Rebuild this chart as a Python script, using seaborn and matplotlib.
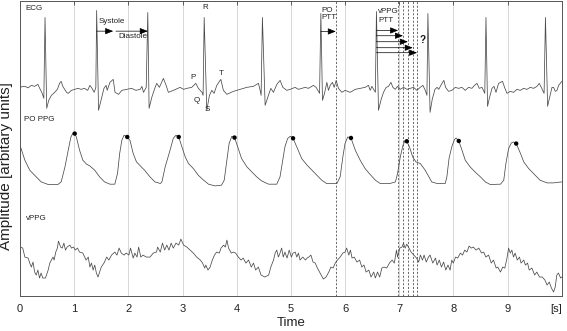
import numpy as np
import seaborn as sns
import matplotlib
matplotlib.use("Agg")
import matplotlib.pyplot as plt

# ---- data (time in s, amplitude in arbitrary units) ----
ecg_t = [0.01, 0.05, 0.09, 0.15, 0.21, 0.27, 0.33, 0.36, 0.41, 0.44, 0.462, 0.493, 0.53, 0.58, 0.64, 0.69, 0.73, 0.76, 0.79, 0.86, 0.89, 0.95,
         1.01, 1.07, 1.13, 1.19, 1.25, 1.29, 1.33, 1.37, 1.40, 1.415, 1.45, 1.51, 1.55, 1.59, 1.61, 1.66, 1.72, 1.755, 1.82, 1.88, 1.97,
         2.06, 2.14, 2.22, 2.25, 2.28, 2.33, 2.359, 2.383, 2.433, 2.494, 2.525, 2.573, 2.647, 2.697, 2.739, 2.832, 2.955,
         3.02, 3.08, 3.17, 3.245, 3.293, 3.36, 3.38, 3.40, 3.448, 3.497, 3.541, 3.583, 3.633, 3.707, 3.755, 3.818, 3.94,
         4.064, 4.187, 4.309, 4.402, 4.433, 4.451, 4.475, 4.525, 4.586, 4.631, 4.679, 4.741, 4.802, 4.852, 4.926, 4.987,
         5.079, 5.14, 5.203, 5.264, 5.325, 5.388, 5.417, 5.467, 5.53, 5.554, 5.584, 5.621, 5.665, 5.694, 5.726, 5.768, 5.80, 5.837, 5.879, 5.942,
         6.003, 6.095, 6.188, 6.28, 6.372, 6.433, 6.465, 6.496, 6.56, 6.58, 6.618, 6.662, 6.71, 6.76, 6.803, 6.847, 6.884, 6.927, 6.969,
         7.019, 7.08, 7.143, 7.204, 7.265, 7.327, 7.388, 7.438, 7.481, 7.512, 7.53, 7.57, 7.61, 7.66, 7.70, 7.73, 7.789, 7.825, 7.856, 7.911, 7.974,
         8.035, 8.096, 8.158, 8.219, 8.28, 8.343, 8.391, 8.435, 8.478, 8.528, 8.58, 8.602, 8.631, 8.668, 8.713, 8.75, 8.787, 8.835, 8.87, 8.908, 8.945, 8.99,
         9.051, 9.112, 9.174, 9.235, 9.296, 9.359, 9.42, 9.481, 9.544, 9.586, 9.623, 9.675, 9.70, 9.74, 9.777, 9.821, 9.85, 9.882, 9.913, 9.943, 9.974, 10.0]
ecg_v = [2, 3, 3, 1.5, 4, 3, 5, 1.5, -4, -9, 72, -19, -11, -6, -3, 0, 6, 8, 3, -3, -4, -1,
         0, 1, 0, 1, -1, 4, 1, -3, 2, 79, -21, -8, 1, 4, -1, 7, 10, -3, -5, -1, 0,
         1, -1, 0, 3, -3, 2, 77, -19, -8, 2, 6, 2, 11, 4, -3, -1, 2,
         0, 1, 2, 6, 1, -3, -6, 72, -21, -6, -1, -4, 4, 10, -1, -5, -2,
         0, 2, 3, 6, -1, -6, 72, -16, -6, 1, -3, 5, 9, 2, -1, 0,
         2, 0, 1, 2, 1, 3, 4, 2, -4, 76, -11, -4, 7, -1, 4, 7, 2, 9, 1, -3,
         -1, -3, 0, 1, 2, 4, -1, 3, -3, 78, -21, -11, -3, 2, 3, 7, 2, 0, 3,
         0, 2, 0, 1, 2, -1, 2, 4, -1, -6, 76, -23, -10, 0, 2, 0, 6, 9, 2, -2, -1,
         2, 1, 2, -1, 2, 1, 4, 6, 1, 2, -4, 72, -17, -8, 1, 3, -3, 6, 7, 8, 2, -4,
         -2, -3, 0, -1, 1, 0, 2, 1, 3, 6, 2, -4, 72, -17, -8, 2, 2, -2, -1, 4, 6, 8]

ppg_t = [0.01, 0.09, 0.18, 0.27, 0.39, 0.52, 0.70, 0.76, 0.83, 0.89,
         0.94, 0.98, 1.01, 1.04, 1.10, 1.16, 1.23, 1.29, 1.38, 1.47,
         1.56, 1.66, 1.75, 1.80, 1.84, 1.88, 1.92, 1.98, 2.03, 2.09,
         2.15, 2.21, 2.30, 2.40, 2.49, 2.59, 2.62, 2.68, 2.77, 2.83,
         2.88, 2.93, 2.99, 3.05, 3.11, 3.20, 3.29, 3.39, 3.48, 3.60,
         3.72, 3.77, 3.82, 3.86, 3.91, 3.96, 4.02, 4.09, 4.19, 4.28,
         4.37, 4.46, 4.59, 4.74, 4.80, 4.85, 4.89, 4.94, 4.99, 5.04,
         5.11, 5.20, 5.30, 5.39, 5.48, 5.57, 5.66, 5.85, 5.91, 5.96,
         6.00, 6.05, 6.11, 6.19, 6.28, 6.37, 6.46, 6.56, 6.65, 6.83,
         6.93, 6.97, 7.02, 7.07, 7.11, 7.14, 7.19, 7.25, 7.31, 7.39,
         7.48, 7.60, 7.70, 7.85, 7.88, 7.92, 7.97, 8.02, 8.05, 8.10,
         8.16, 8.22, 8.31, 8.40, 8.50, 8.59, 8.68, 8.87, 8.93, 8.97,
         9.02, 9.07, 9.11, 9.16, 9.24, 9.30, 9.39, 9.48, 9.60, 9.73,
         9.85, 10.0]
ppg_v = [38.3, 25, 15, 10, 3.3, 0.7, 0.7, 3.3, 18.3, 35,
         48.3, 52.3, 51.7, 48.3, 35, 25, 21, 19.3, 15, 8.3,
         3.3, 1, 1, 11.7, 31.7, 45, 50, 48.3, 45, 31.7,
         23.3, 20, 15, 8.3, 3.3, 1.7, 3.3, 18.3, 35, 47,
         50, 48.3, 38.3, 28.3, 21.7, 16.7, 10, 5, 1, -0.7,
         0, 5, 25, 41.7, 49, 47.7, 38.3, 26.7, 18.3, 13.3,
         8.3, 4.3, 1, 1, 8.3, 25, 38.3, 46.7, 49, 47,
         38.3, 26.7, 20, 15, 10, 5, 1.7, 1.7, 8.3, 28.3,
         41.7, 48.3, 47.3, 35, 25, 16.7, 11, 5, 1.7, 1.7,
         3.3, 11.7, 28.3, 40, 45, 44, 38.3, 28.3, 23.3, 21.7,
         15, 3.3, 1.7, 1.7, 8.3, 26.7, 38.3, 45.7, 47.3, 44.3,
         35, 25, 18.3, 13.3, 8.3, 3.3, 0.7, 1, 5, 21.7,
         36.7, 42.3, 43.3, 41.7, 31.7, 23.3, 16.7, 11.7, 5, 2.3,
         2.3, 3.3]

# systolic peaks marked on the PO PPG
peak_t = [1.01, 1.98, 2.93, 3.96, 5.04, 6.11, 7.14, 8.10, 9.16]
peak_v = [51.7, 48.3, 48.3, 47.7, 47, 47.3, 44, 44.3, 41.7]

vppg_t = [0.01, 0.05, 0.09, 0.15, 0.18, 0.21, 0.24, 0.27, 0.30, 0.33, 0.36, 0.39, 0.42, 0.47, 0.52,
          0.55, 0.58, 0.61, 0.63, 0.66, 0.69, 0.71, 0.75, 0.78, 0.81, 0.84, 0.87, 0.92, 0.95, 0.99,
          1.02, 1.06, 1.10, 1.16, 1.22, 1.26, 1.29, 1.32, 1.35, 1.38, 1.41, 1.44, 1.50, 1.55, 1.60,
          1.64, 1.69, 1.75, 1.79, 1.83, 1.87, 1.92, 1.96,
          2.01, 2.04, 2.09, 2.12, 2.16, 2.19, 2.23, 2.27, 2.33, 2.40, 2.46, 2.52, 2.54, 2.59, 2.63,
          2.67, 2.71, 2.75, 2.79, 2.83, 2.88, 2.93, 2.97,
          3.02, 3.08, 3.14, 3.20, 3.26, 3.33, 3.37, 3.41, 3.43, 3.47, 3.51, 3.55, 3.59, 3.63, 3.68,
          3.71, 3.76, 3.79, 3.82, 3.85, 3.90, 3.94, 3.98,
          4.03, 4.08, 4.12, 4.17, 4.22, 4.27, 4.31, 4.35, 4.40, 4.45, 4.52, 4.59, 4.63, 4.68, 4.71,
          4.74, 4.77, 4.80, 4.83, 4.86, 4.89, 4.93, 4.97,
          5.01, 5.04, 5.08, 5.11, 5.14, 5.17, 5.22, 5.27, 5.30, 5.33, 5.37, 5.41, 5.45, 5.49, 5.54,
          5.60, 5.65, 5.70, 5.74, 5.78, 5.82, 5.86, 5.91, 5.96,
          6.00, 6.03, 6.07, 6.10, 6.13, 6.17, 6.22, 6.27, 6.31, 6.35, 6.39, 6.44, 6.48, 6.53, 6.56,
          6.60, 6.64, 6.68, 6.72, 6.77, 6.82, 6.87, 6.91, 6.95, 6.97,
          7.01, 7.05, 7.08, 7.11, 7.14, 7.18, 7.22, 7.27, 7.32, 7.36, 7.39, 7.43, 7.46, 7.50, 7.54,
          7.57, 7.62, 7.67, 7.70, 7.74, 7.78, 7.82, 7.86, 7.90, 7.94, 7.97,
          8.00, 8.04, 8.08, 8.13, 8.17, 8.21, 8.25, 8.29, 8.33, 8.37, 8.42, 8.47, 8.52, 8.56, 8.60,
          8.65, 8.70, 8.74, 8.79, 8.82, 8.87, 8.91, 8.95, 8.99,
          9.02, 9.05, 9.08, 9.11, 9.14, 9.18, 9.22, 9.25, 9.30, 9.33, 9.37, 9.40, 9.45, 9.50, 9.54,
          9.59, 9.64, 9.69, 9.73, 9.77, 9.81, 9.85, 9.88, 9.91, 9.94, 9.98, 10.0]
vppg_v = [33, 32, 23, 22, 17, 13, 18, 8, 5, 10, 2, 7, 2, 2, 10,
          17, 20, 23, 20, 28, 32, 39, 33, 32, 37, 30, 33, 35, 32, 33,
          30, 32, 28, 27, 20, 23, 13, 17, 10, 15, 7, 3, 13, 17, 23,
          20, 25, 28, 25, 32, 27, 25, 27,
          25, 32, 22, 27, 23, 33, 23, 25, 23, 23, 27, 28, 33, 28, 37,
          30, 35, 30, 37, 32, 37, 35, 41,
          35, 33, 30, 27, 23, 20, 17, 12, 15, 10, 13, 20, 25, 28, 27,
          32, 35, 33, 40, 32, 27, 28, 27,
          23, 20, 22, 17, 20, 13, 17, 10, 13, 5, 3, 5, 13, 20, 27,
          30, 23, 27, 32, 23, 28, 22, 30,
          23, 27, 28, 23, 27, 20, 23, 20, 22, 23, 25, 18, 17, 12, 7,
          1, 3, 8, 13, 12, 17, 20, 23, 27,
          28, 32, 25, 30, 22, 23, 18, 20, 13, 15, 8, 10, 3, 8, 2,
          8, 3, 12, 13, 12, 17, 20, 17, 30, 23,
          32, 33, 37, 32, 36, 32, 28, 25, 22, 18, 25, 20, 25, 18, 23,
          25, 17, 22, 15, 20, 13, 18, 10, 15, 10, 20,
          17, 23, 22, 27, 25, 30, 28, 34, 32, 33, 30, 32, 27, 28, 23,
          25, 17, 20, 12, 13, 8, 13, 12, 22,
          32, 27, 30, 23, 27, 20, 23, 17, 20, 15, 17, 10, 12, 5, 8,
          3, 3, 0, -5, -2, -8, -12, -7, 5, 7, 2, 3]

# R peaks used as arrow starts, and the pulse-arrival instants (dashed lines)
r_systole, r_diastole_end = 1.415, 2.359
r_po, r_vppg = 5.554, 6.58
po_arrival = 5.83
vppg_arrivals = [6.98, 7.07, 7.16, 7.25, 7.33]

# ---- layout ----
ECG_BASE, PPG_BASE, VPPG_BASE = 207, 111, 16
TRACE = "#4a4a4a"

sns.set_theme(style="white")
plt.rcParams["font.family"] = ["Liberation Sans", "DejaVu Sans"]

fig = plt.figure(figsize=(5.67, 3.31), dpi=100)
ax = fig.add_axes([20 / 567, 35 / 331, 541.7 / 567, 295.5 / 331])

sns.lineplot(x=ecg_t, y=np.array(ecg_v) + ECG_BASE, ax=ax, color=TRACE, lw=0.55, estimator=None, sort=False)
sns.lineplot(x=ppg_t, y=np.array(ppg_v) + PPG_BASE, ax=ax, color=TRACE, lw=0.55, estimator=None, sort=False)
sns.lineplot(x=vppg_t, y=np.array(vppg_v) + VPPG_BASE, ax=ax, color=TRACE, lw=0.55, estimator=None, sort=False)
sns.scatterplot(x=peak_t, y=np.array(peak_v) + PPG_BASE, ax=ax, color="black", s=10, edgecolor="none", zorder=5)

for xv in [po_arrival] + vppg_arrivals:
    ax.axvline(xv, color="#505050", lw=0.6, ls=(0, (2.5, 2)), zorder=3)

ax.set_xlim(0, 10)
ax.set_ylim(0, 296)
ax.set_xticks(range(10))
ax.set_yticks([])
ax.xaxis.grid(True, color="#d6d6d6", lw=0.7)
ax.tick_params(axis="x", direction="in", length=3, width=0.6, top=True,
               labelsize=8, pad=6, color="#444", labelcolor="#222")
for sp in ax.spines.values():
    sp.set_color("#555555")
    sp.set_linewidth(0.7)

ax.text(9.9, -0.027, "[s]", transform=ax.get_xaxis_transform(), ha="center", va="top",
        fontsize=8, color="#222")
ax.set_xlabel("Time", fontsize=9.5, color="#222")
ax.xaxis.set_label_coords(0.5, -0.072)
ax.set_ylabel("Amplitude [arbitary units]", fontsize=11, color="#222")
ax.yaxis.set_label_coords(-0.013, 0.44)

# ---- annotations ----
small = dict(fontsize=5.8, color="#222")
ax.text(0.09, 288, "ECG", va="center", **small)
ax.text(0.075, 177, "PO PPG", va="center", **small)
ax.text(0.11, 78, "vPPG", va="center", **small)
ax.text(3.42, 289, "R", ha="center", va="center", **small)
ax.text(3.195, 219, "P", ha="center", va="center", **small)
ax.text(3.71, 223, "T", ha="center", va="center", **small)
ax.text(3.27, 196, "Q", ha="center", va="center", **small)
ax.text(3.45, 187, "S", ha="center", va="center", **small)
ax.text(1.46, 274.5, "Systole", va="center", **small)
ax.text(1.81, 259.5, "Diastole", va="center", **small)
ax.text(5.57, 286, "PO", va="center", **small)
ax.text(5.57, 278.5, "PTT", va="center", **small)
ax.text(6.61, 284.5, "vPPG", va="center", **small)
ax.text(6.61, 276, "PTT", va="center", **small)
ax.text(7.43, 256, "?", ha="center", va="center", fontsize=7, fontweight="bold", color="#111")

arrow_style = dict(arrowstyle="-|>,head_length=0.4,head_width=0.16", color="black",
                   lw=0.5, shrinkA=0, shrinkB=0)


def arrow(x0, x1, y):
    ax.annotate("", xy=(x1, y), xytext=(x0, y), arrowprops=arrow_style)


arrow(r_systole, 1.72, 265.3)
arrow(1.77, r_diastole_end, 265.3)
arrow(r_po, po_arrival, 265)
for xv, yv in zip(vppg_arrivals, [266, 260.7, 254.7, 248.7, 243.7]):
    arrow(r_vppg, xv, yv)

fig.savefig("out.png", dpi=100)
